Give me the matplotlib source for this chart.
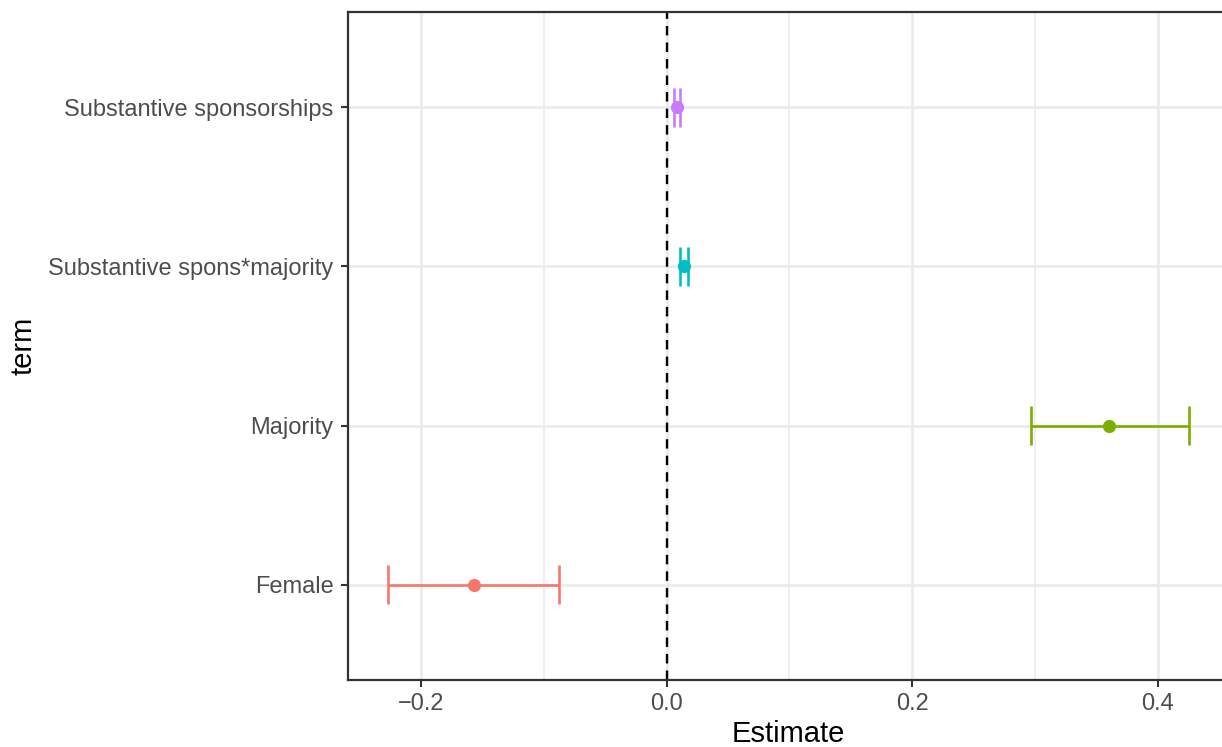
import matplotlib
matplotlib.use("Agg")
import matplotlib.pyplot as plt
from matplotlib.ticker import MultipleLocator

plt.rcParams['font.family'] = ['Liberation Sans', 'DejaVu Sans']

terms = ["Female", "Majority", "Substantive spons*majority", "Substantive sponsorships"]
estimates = [-0.157, 0.360, 0.0141, 0.0081]
conf_low = [-0.2268, 0.2967, 0.0109, 0.0057]
conf_high = [-0.0878, 0.4252, 0.0175, 0.0106]
colors = ["#F8766D", "#7CAE00", "#00BFC4", "#C77CFF"]

fig = plt.figure(figsize=(12.22, 7.47), dpi=100)
ax = fig.add_axes([348 / 1222, 67 / 747, (1229 - 348) / 1222, (680 - 12) / 747])

ypos = list(range(1, len(terms) + 1))
cap = 0.125

for y, est, lo, hi, c in zip(ypos, estimates, conf_low, conf_high, colors):
    ax.plot([lo, hi], [y, y], color=c, lw=1.9, solid_capstyle='butt', zorder=3)
    ax.plot([lo, lo], [y - cap, y + cap], color=c, lw=1.9, solid_capstyle='butt', zorder=3)
    ax.plot([hi, hi], [y - cap, y + cap], color=c, lw=1.9, solid_capstyle='butt', zorder=3)
    ax.plot([est], [y], 'o', color=c, ms=9.5, mec='none', zorder=4)

ax.axvline(0, color='black', lw=1.7, ls=(0, (4, 3)), zorder=2)

xmin = min(conf_low)
xmax = max(conf_high)
pad = 0.05 * (xmax - xmin)
ax.set_xlim(xmin - pad, xmax + pad)
ax.set_ylim(0.4, len(terms) + 0.6)

ax.xaxis.set_minor_locator(MultipleLocator(0.1))
ax.set_yticks(ypos)
ax.set_yticklabels(terms)
xt = [-0.2, 0.0, 0.2, 0.4]
ax.set_xticks(xt)
ax.set_xticklabels(["\u22120.2", "0.0", "0.2", "0.4"])

ax.grid(which='major', color='#EBEBEB', lw=2.0, zorder=0)
ax.grid(which='minor', axis='x', color='#EBEBEB', lw=1.1, zorder=0)
ax.set_axisbelow(True)

ax.tick_params(which='major', length=5, width=1.5, color='#333333',
               labelsize=17, labelcolor='#4D4D4D', pad=4)
ax.tick_params(axis='y', which='major', pad=5.5)
ax.tick_params(which='minor', length=0)

for s in ax.spines.values():
    s.set_color('#333333')
    s.set_linewidth(1.6)

ax.set_xlabel("Estimate", fontsize=21, labelpad=4)
ax.set_ylabel("term", fontsize=21, labelpad=8)

fig.savefig("out.png", dpi=100, facecolor='white')
